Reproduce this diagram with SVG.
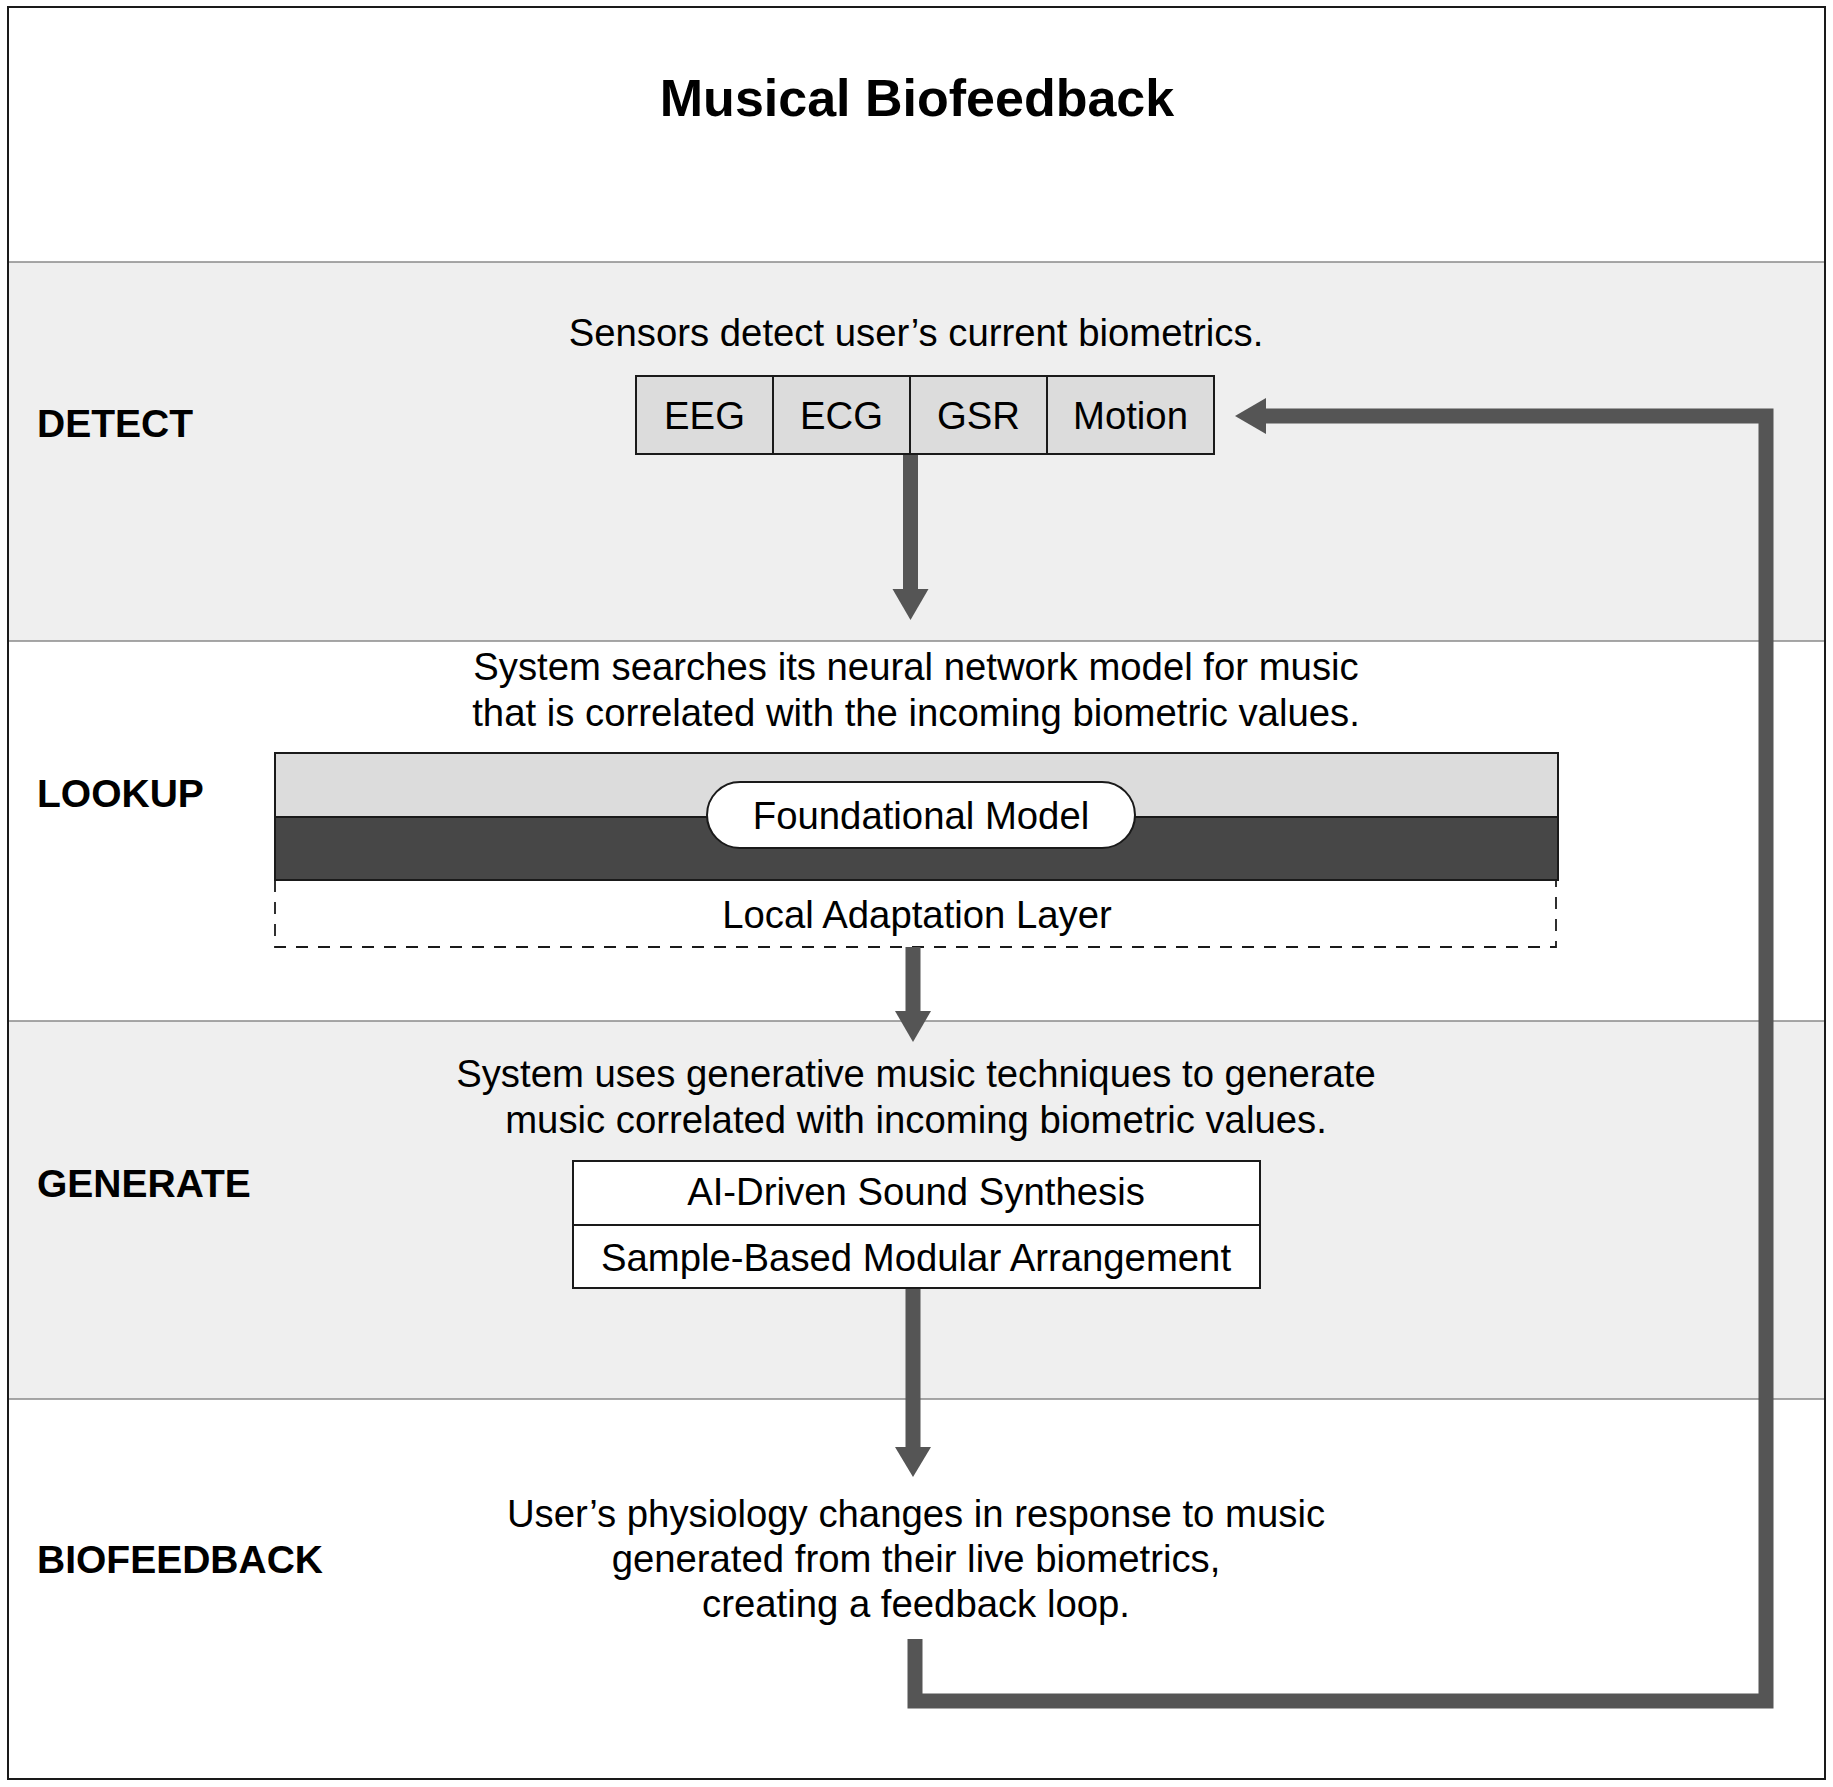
<svg xmlns="http://www.w3.org/2000/svg" width="1833" height="1787" viewBox="0 0 1833 1787">
<defs>
<style>
.t{font-family:"Liberation Sans",Arial,Helvetica,sans-serif;font-size:38.3px;fill:#000;text-anchor:middle}
.lbl{font-family:"Liberation Sans",Arial,Helvetica,sans-serif;font-size:39px;font-weight:bold;fill:#000}
.title{font-family:"Liberation Sans",Arial,Helvetica,sans-serif;font-size:52px;font-weight:bold;fill:#000;text-anchor:middle}
.sep{stroke:#8a8a8a;stroke-width:1.5}
.box{stroke:#1a1a1a;stroke-width:2}
.arr{fill:none;stroke:#555;stroke-width:15}
.head{fill:#555}
</style>
</defs>
<rect x="0" y="0" width="1833" height="1787" fill="#fff"/>
<g id="bands">
<rect x="8" y="262" width="1817" height="379" fill="#efefef"/>
<rect x="8" y="1021" width="1817" height="378" fill="#efefef"/>
<line class="sep" x1="8" y1="262" x2="1825" y2="262"/>
<line class="sep" x1="8" y1="641" x2="1825" y2="641"/>
<line class="sep" x1="8" y1="1021" x2="1825" y2="1021"/>
<line class="sep" x1="8" y1="1399" x2="1825" y2="1399"/>
</g>
<rect x="8" y="7" width="1817" height="1772" fill="none" stroke="#1a1a1a" stroke-width="2"/>
<g id="title"><text class="title" x="917" y="116">Musical Biofeedback</text></g>
<g id="labels">
<text class="lbl" x="37" y="437">DETECT</text>
<text class="lbl" x="37" y="807">LOOKUP</text>
<text class="lbl" x="37" y="1197">GENERATE</text>
<text class="lbl" x="37" y="1573">BIOFEEDBACK</text>
</g>
<g id="detect">
<text class="t" x="916" y="346">Sensors detect user’s current biometrics.</text>
<g id="sensors">
<rect class="box" x="636" y="376" width="137" height="78" fill="#dcdcdc"/>
<rect class="box" x="773" y="376" width="137" height="78" fill="#dcdcdc"/>
<rect class="box" x="910" y="376" width="137" height="78" fill="#dcdcdc"/>
<rect class="box" x="1047" y="376" width="167" height="78" fill="#dcdcdc"/>
<text class="t" x="704.5" y="429">EEG</text>
<text class="t" x="841.5" y="429">ECG</text>
<text class="t" x="978.5" y="429">GSR</text>
<text class="t" x="1130.5" y="429">Motion</text>
</g>
</g>
<g id="lookup">
<text class="t" x="916" y="680">System searches its neural network model for music</text>
<text class="t" x="916" y="726">that is correlated with the incoming biometric values.</text>
<rect x="275" y="880" width="1281" height="67" fill="none" stroke="#1a1a1a" stroke-width="1.8" stroke-dasharray="12 10"/>
<rect class="box" x="275" y="753" width="1283" height="64" fill="#dcdcdc"/>
<rect class="box" x="275" y="817" width="1283" height="63" fill="#474747"/>
<rect class="box" x="707" y="782" width="428" height="66" rx="33" ry="33" fill="#fff"/>
<text class="t" x="921" y="829">Foundational Model</text>
<text class="t" x="917" y="928">Local Adaptation Layer</text>
</g>
<g id="generate">
<text class="t" x="916" y="1087">System uses generative music techniques to generate</text>
<text class="t" x="916" y="1133">music correlated with incoming biometric values.</text>
<rect class="box" x="573" y="1161" width="687" height="64" fill="#fff"/>
<rect class="box" x="573" y="1225" width="687" height="63" fill="#fff"/>
<text class="t" x="916" y="1205">AI-Driven Sound Synthesis</text>
<text class="t" x="916" y="1271">Sample-Based Modular Arrangement</text>
</g>
<g id="biofeedback">
<text class="t" x="916" y="1527">User’s physiology changes in response to music</text>
<text class="t" x="916" y="1572">generated from their live biometrics,</text>
<text class="t" x="916" y="1617">creating a feedback loop.</text>
</g>
<g id="connectors">
<line class="arr" x1="910.5" y1="455" x2="910.5" y2="592"/>
<polygon class="head" points="892.5,589 928.5,589 910.5,620"/>
<line class="arr" x1="913" y1="947" x2="913" y2="1014"/>
<polygon class="head" points="895,1011 931,1011 913,1042"/>
<line class="arr" x1="913" y1="1289" x2="913" y2="1450"/>
<polygon class="head" points="895,1447 931,1447 913,1477"/>
<polyline class="arr" stroke-linejoin="miter" points="915,1639 915,1701 1766,1701 1766,416 1262,416"/>
<polygon class="head" points="1266,398 1266,434 1235,416"/>
</g>
</svg>
